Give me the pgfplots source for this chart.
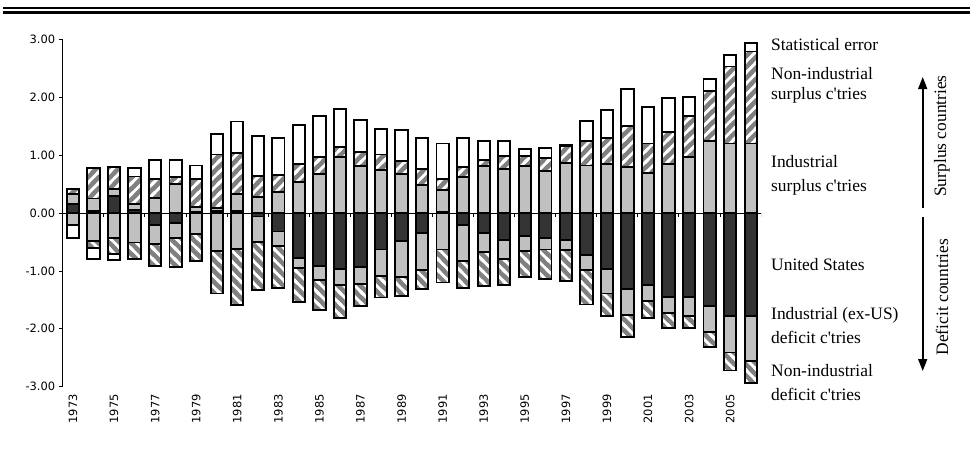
\documentclass[border=0pt]{standalone}
\usepackage{pgfplots}
\pgfplotsset{compat=1.18}
\usepackage{pgfplotstable}
\usepackage{fontspec}
\setmainfont{Liberation Serif}
\newfontfamily\numfont{DejaVu Sans}
\usetikzlibrary{patterns,arrows.meta}

\definecolor{usdark}{HTML}{333333}
\definecolor{indgrey}{HTML}{C0C0C0}
\definecolor{hatchgrey}{HTML}{808080}

% wide diagonal stripes, "/" and "\"
\pgfdeclarepatternformonly{stripesNE}{\pgfqpoint{-2pt}{-2pt}}{\pgfqpoint{13pt}{13pt}}{\pgfqpoint{11pt}{11pt}}{
  \pgfsetlinewidth{2.8pt}
  \pgfpathmoveto{\pgfqpoint{-2pt}{-2pt}}\pgfpathlineto{\pgfqpoint{13pt}{13pt}}
  \pgfpathmoveto{\pgfqpoint{9pt}{-2pt}}\pgfpathlineto{\pgfqpoint{13pt}{2pt}}
  \pgfpathmoveto{\pgfqpoint{-2pt}{9pt}}\pgfpathlineto{\pgfqpoint{2pt}{13pt}}
  \pgfusepath{stroke}}
\pgfdeclarepatternformonly{stripesNW}{\pgfqpoint{-2pt}{-2pt}}{\pgfqpoint{13pt}{13pt}}{\pgfqpoint{11pt}{11pt}}{
  \pgfsetlinewidth{2.8pt}
  \pgfpathmoveto{\pgfqpoint{-2pt}{13pt}}\pgfpathlineto{\pgfqpoint{13pt}{-2pt}}
  \pgfpathmoveto{\pgfqpoint{-2pt}{2pt}}\pgfpathlineto{\pgfqpoint{2pt}{-2pt}}
  \pgfpathmoveto{\pgfqpoint{9pt}{13pt}}\pgfpathlineto{\pgfqpoint{13pt}{9pt}}
  \pgfusepath{stroke}}

% positive parts stack upwards, negative parts stack downwards
\pgfplotstableread{
year usp  ind  non  statp usn   indd  nond  statn
1973 0.16 0.17 0.09 0     0     -0.20 0     -0.23
1974 0.03 0.22 0.53 0     0     -0.49 -0.11 -0.20
1975 0.29 0.13 0.37 0     0     -0.43 -0.28 -0.10
1976 0.05 0.11 0.47 0.15  0     -0.51 -0.29 0
1977 0    0.26 0.33 0.32  -0.20 -0.34 -0.38 0
1978 0    0.50 0.12 0.30  -0.18 -0.25 -0.50 0
1979 0.01 0.10 0.48 0.23  0     -0.37 -0.46 0
1980 0.03 0.05 0.93 0.36  0     -0.66 -0.73 0
1981 0.03 0.30 0.70 0.55  0     -0.62 -0.97 0
1982 0    0.28 0.36 0.69  -0.06 -0.44 -0.83 0
1983 0    0.36 0.30 0.64  -0.32 -0.25 -0.73 0
1984 0    0.53 0.31 0.68  -0.77 -0.18 -0.58 0
1985 0    0.68 0.29 0.70  -0.91 -0.25 -0.52 0
1986 0    0.97 0.17 0.66  -0.97 -0.28 -0.56 0
1987 0    0.81 0.25 0.55  -0.93 -0.29 -0.39 0
1988 0    0.75 0.26 0.44  -0.63 -0.46 -0.37 0
1989 0    0.67 0.23 0.54  -0.49 -0.62 -0.33 0
1990 0    0.49 0.27 0.54  -0.34 -0.65 -0.32 0
1991 0.01 0.39 0.18 0.62  0     -0.63 -0.57 0
1992 0    0.62 0.17 0.51  -0.21 -0.62 -0.47 0
1993 0    0.81 0.11 0.32  -0.34 -0.34 -0.58 0
1994 0    0.76 0.22 0.26  -0.47 -0.32 -0.46 0
1995 0    0.81 0.17 0.12  -0.39 -0.27 -0.44 0
1996 0    0.72 0.23 0.18  -0.43 -0.20 -0.51 0
1997 0    0.86 0.29 0.02  -0.47 -0.17 -0.53 0
1998 0    0.82 0.42 0.35  -0.72 -0.27 -0.59 0
1999 0    0.84 0.46 0.48  -0.97 -0.42 -0.39 0
2000 0    0.80 0.71 0.63  -1.32 -0.44 -0.38 0
2001 0    0.69 0.51 0.63  -1.24 -0.28 -0.30 0
2002 0    0.85 0.55 0.58  -1.45 -0.27 -0.26 0
2003 0    0.97 0.71 0.32  -1.45 -0.33 -0.21 0
2004 0    1.24 0.87 0.21  -1.61 -0.44 -0.26 0
2005 0    1.20 1.33 0.20  -1.78 -0.63 -0.31 0
2006 0    1.20 1.59 0.14  -1.78 -0.77 -0.38 0
}\cadata

% years are plotted at positions 0..33
\pgfplotsset{
  stackbase/.style={
    at={(62.7bp,-386.7bp)}, anchor=south west,
    scale only axis, width=698.3bp, height=347.4bp,
    xmin=-0.5, xmax=33.5, ymin=-3, ymax=3,
    ybar stacked, bar width=0.6,
  },
  seg/.style={draw=black, line width=1.9bp},
  segUS/.style={seg, fill=usdark},
  segInd/.style={seg, fill=indgrey},
  segStat/.style={seg, fill=white},
  segNonUp/.style={seg, preaction={fill=hatchgrey}, pattern=stripesNE, pattern color=white},
  segNonDn/.style={seg, preaction={fill=hatchgrey}, pattern=stripesNW, pattern color=white},
}

\begin{document}
\begin{tikzpicture}
\useasboundingbox (0,0) rectangle (970bp,-457bp);

% header rules
\fill[black] (3bp,-6.7bp) rectangle (970bp,-8.7bp);
\fill[black] (3bp,-10.7bp) rectangle (970bp,-14bp);

\begin{axis}[stackbase,
    axis x line*=bottom, axis y line*=left,
    x axis line style={draw=none},
    y axis line style={black, line width=0.8bp},
    xtick={0,2,...,32},
    xticklabels={1973,1975,1977,1979,1981,1983,1985,1987,1989,1991,1993,1995,1997,1999,2001,2003,2005},
    xtick style={draw=none},
    ytick={-3,-2,...,3},
    ytick style={black, line width=0.8bp},
    tick align=outside, major tick length=4bp,
    /pgf/number format/assume math mode=true,
    tick label style={font=\numfont\fontsize{11.5}{13}\selectfont},
    xticklabel style={rotate=90, anchor=east},
    yticklabel style={/pgf/number format/.cd, fixed, fixed zerofill, precision=2},
  ]
  \addplot[segUS]    table[x expr=\coordindex,y=usp]   {\cadata};
  \addplot[segInd]   table[x expr=\coordindex,y=ind]   {\cadata};
  \addplot[segNonUp] table[x expr=\coordindex,y=non]   {\cadata};
  \addplot[segStat]  table[x expr=\coordindex,y=statp] {\cadata};

  \draw[black, line width=0.8bp] (axis cs:-0.5,0) -- (axis cs:33.5,0);
  \pgfplotsinvokeforeach{1.5,3.5,5.5,7.5,9.5,11.5,13.5,15.5,17.5,19.5,21.5,23.5,25.5,27.5,29.5,31.5,33.5}{
    \draw[black, line width=0.8bp] (axis cs:#1,0) -- ([yshift=-4bp]axis cs:#1,0);
  }
\end{axis}

\begin{axis}[stackbase, hide axis]
  \addplot[segUS]    table[x expr=\coordindex,y=usn]   {\cadata};
  \addplot[segInd]   table[x expr=\coordindex,y=indd]  {\cadata};
  \addplot[segNonDn] table[x expr=\coordindex,y=nond]  {\cadata};
  \addplot[segStat]  table[x expr=\coordindex,y=statn] {\cadata};
\end{axis}

% series labels
\begin{scope}[every node/.style={anchor=west, inner sep=0pt,
    font=\fontsize{17.5}{20}\selectfont}]
  \node at (771bp,-45bp)  {Statistical error};
  \node at (771bp,-74bp)  {Non-industrial};
  \node at (771bp,-95bp)  {surplus c\textquotesingle tries};
  \node at (771bp,-162bp) {Industrial};
  \node at (771bp,-187bp) {surplus c\textquotesingle tries};
  \node at (771bp,-265bp) {United States};
  \node at (771bp,-315bp) {Industrial (ex-US)};
  \node at (771bp,-337bp) {deficit c\textquotesingle tries};
  \node at (771bp,-371bp) {Non-industrial};
  \node at (771bp,-394bp) {deficit c\textquotesingle tries};
\end{scope}

% surplus / deficit arrows
\draw[line width=1.6bp, -{Triangle[length=12bp,width=9bp]}] (922.7bp,-208bp) -- (922.7bp,-77bp);
\draw[line width=1.6bp, -{Triangle[length=12bp,width=9bp]}] (922.7bp,-217bp) -- (922.7bp,-371bp);
\node[rotate=90, font=\fontsize{17.5}{20}\selectfont] at (942bp,-136bp) {Surplus countries};
\node[rotate=90, font=\fontsize{17.5}{20}\selectfont] at (942bp,-297bp) {Deficit countries};
\end{tikzpicture}
\end{document}
